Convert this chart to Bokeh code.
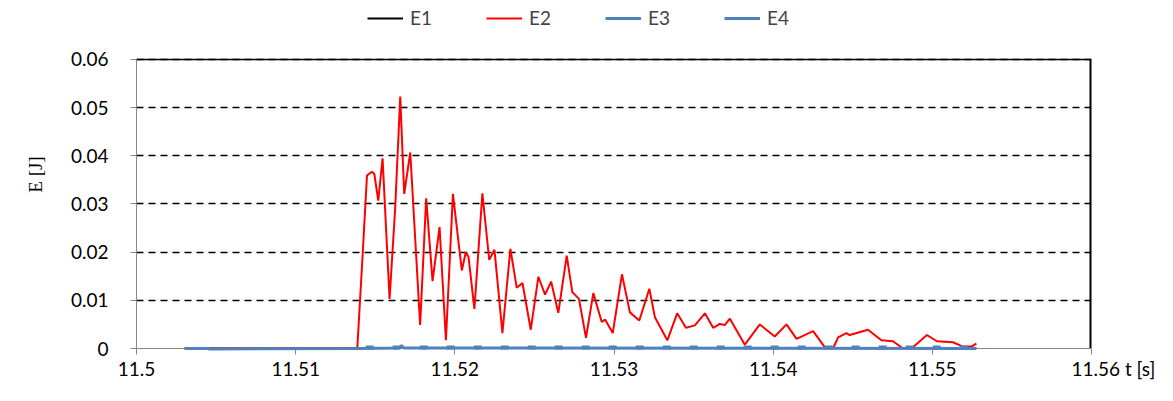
from bokeh.plotting import figure
from bokeh.models import (Range1d, FixedTicker, Legend, LegendItem, Span)
from bokeh.embed import file_html
from bokeh.resources import INLINE

# ---- data ----
t_E2 = [11.50301, 11.51387, 11.51420, 11.51448, 11.51479, 11.51494, 11.51519, 11.51546,
        11.51590, 11.51625, 11.51657, 11.51682, 11.51720, 11.51782, 11.51820, 11.51860,
        11.51904, 11.51944, 11.51988, 11.52044, 11.52069, 11.52086, 11.52123, 11.52173,
        11.52216, 11.52249, 11.52299, 11.52349, 11.52389, 11.52425, 11.52477, 11.52525,
        11.52567, 11.52605, 11.52650, 11.52703, 11.52738, 11.52780, 11.52824, 11.52870,
        11.52923, 11.52944, 11.52992, 11.53050, 11.53100, 11.53159, 11.53222, 11.53257,
        11.53335, 11.53397, 11.53452, 11.53508, 11.53571, 11.53623, 11.53665, 11.53697,
        11.53728, 11.53822, 11.53916, 11.54010, 11.54084, 11.54147, 11.54251, 11.54324,
        11.54376, 11.54408, 11.54460, 11.54481, 11.54596, 11.54680, 11.54753, 11.54816,
        11.54869, 11.54966, 11.55029, 11.55130, 11.55192, 11.55245, 11.55277]
E2 = [0.0, 0.0, 0.0190, 0.0359, 0.0367, 0.0363, 0.0307, 0.0395,
      0.0103, 0.0290, 0.0523, 0.0321, 0.0407, 0.0049, 0.0312, 0.0140,
      0.0252, 0.0017, 0.0321, 0.0162, 0.0200, 0.0190, 0.0082, 0.0322,
      0.0184, 0.0205, 0.0032, 0.0207, 0.0126, 0.0136, 0.0039, 0.0149,
      0.0112, 0.0139, 0.0074, 0.0193, 0.0117, 0.0103, 0.0022, 0.0115,
      0.0055, 0.0060, 0.0032, 0.0154, 0.0075, 0.0058, 0.0124, 0.0065,
      0.0017, 0.0073, 0.0043, 0.0048, 0.0073, 0.0043, 0.0051, 0.0049,
      0.0062, 0.0008, 0.0050, 0.0025, 0.0050, 0.0020, 0.0036, 0.0003,
      0.0, 0.0023, 0.0032, 0.0028, 0.0039, 0.0017, 0.0015, 0.0,
      0.0, 0.0028, 0.0015, 0.0013, 0.0004, 0.0004, 0.0010]

t_E1 = [11.50301, 11.51387, 11.52300, 11.53700, 11.55277]
E1 = [0.0, 0.0, 0.0001, 0.0001, 0.0]

t_E3 = [11.50301, 11.50450, 11.50460, 11.51387, 11.51650, 11.51665, 11.51680, 11.55277]
E3 = [0.0, 0.0, -0.0001, 0.0, 0.0001, 0.0006, 0.0001, 0.0]

t_E4 = [11.51440, 11.55277]
E4 = [0.0002, 0.0002]

y_ticks = [0.0, 0.01, 0.02, 0.03, 0.04, 0.05, 0.06]
y_tick_labels = ["0", "0.01", "0.02", "0.03", "0.04", "0.05", "0.06"]
x_ticks = [11.5, 11.51, 11.52, 11.53, 11.54, 11.55, 11.56]
x_tick_labels = ["11.5", "11.51", "11.52", "11.53", "11.54", "11.55", "11.56"]
x_title = "t [s]"

FONT = "Lato"
FS = "19px"
BLUE = "#4F81BD"
NBSP = "\u00a0"

Y_MAX = 0.06
Y_TOP = 0.072249   # frame reaches the top of the canvas so the legend sits above the 0.06 line

p = figure(width=1165, height=393, output_backend="svg", toolbar_location=None,
           x_range=Range1d(11.5, 11.56), y_range=Range1d(0, Y_TOP),
           min_border_left=136, min_border_right=74, min_border_top=0, min_border_bottom=45)
p.title.visible = False
p.outline_line_color = None
p.background_fill_color = "white"

# axes (the x title sits right after the last tick label, as in the reference)
x_over = {v: s for v, s in zip(x_ticks, x_tick_labels)}
x_over[x_ticks[-1]] = NBSP * 9 + x_tick_labels[-1] + NBSP + x_title
p.xaxis.ticker = FixedTicker(ticks=x_ticks)
p.yaxis.ticker = FixedTicker(ticks=y_ticks)
p.yaxis.bounds = (0, Y_MAX)
p.xaxis.major_label_overrides = x_over
p.yaxis.major_label_overrides = {v: s for v, s in zip(y_ticks, y_tick_labels)}
for ax in (p.xaxis, p.yaxis):
    ax.axis_line_color = "#868686"
    ax.major_tick_line_color = "#868686"
    ax.major_tick_in = 0
    ax.major_tick_out = 6
    ax.minor_tick_line_color = None
    ax.major_label_text_font = FONT
    ax.major_label_text_font_size = FS
    ax.major_label_text_color = "black"
p.xaxis.major_label_standoff = 2
p.yaxis.major_label_standoff = 22
p.yaxis.axis_label = "E [J]"
p.yaxis.axis_label_text_font = "Liberation Serif"
p.yaxis.axis_label_text_font_style = "normal"
p.yaxis.axis_label_text_font_size = "19px"
p.yaxis.axis_label_text_color = "black"
p.yaxis.axis_label_standoff = 22

# grid
p.xgrid.grid_line_color = None
p.ygrid.grid_line_color = "black"
p.ygrid.grid_line_dash = "7 5"
p.ygrid.grid_line_width = 1.3

# borders of the plot area (top / right)
p.add_layout(Span(location=Y_MAX, dimension="width", line_color="black", line_width=1.5))
p.segment(x0=[x_ticks[-1]], y0=[0.0], x1=[x_ticks[-1]], y1=[Y_MAX],
          line_color="black", line_width=4)

# series
r1 = p.line(t_E1, E1, line_color="black", line_width=2)
r2 = p.line(t_E2, E2, line_color="#FF0000", line_width=2)
r3 = p.line(t_E3, E3, line_color=BLUE, line_width=3, level="overlay")
r4 = p.line(t_E4, E4, line_color=BLUE, line_width=4, line_dash="8 19", level="overlay")

legend = Legend(items=[LegendItem(label="E1", renderers=[r1]),
                       LegendItem(label="E2", renderers=[r2]),
                       LegendItem(label="E3", renderers=[r3]),
                       LegendItem(label="E4", renderers=[r3])],
                orientation="horizontal", location=(231, 319),
                glyph_width=36, glyph_height=20, label_standoff=7, label_width=54,
                spacing=22, padding=0, margin=0,
                label_text_font=FONT, label_text_font_size=FS,
                border_line_alpha=0, background_fill_alpha=0)
p.add_layout(legend, "center")

open("out.html", "w").write(file_html(p, INLINE))
